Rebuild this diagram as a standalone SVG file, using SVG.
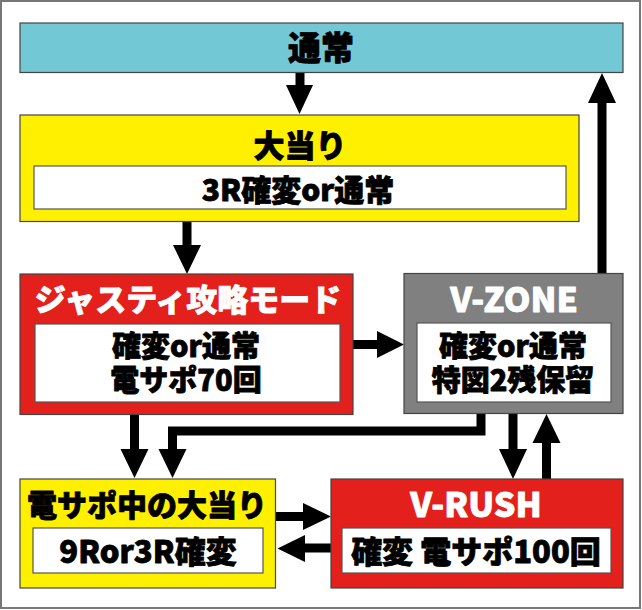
<svg xmlns="http://www.w3.org/2000/svg" width="642" height="610" viewBox="0 0 642 610">
<style>
.t{font-family:"Noto Sans CJK JP","Noto Sans",sans-serif;font-weight:900;text-anchor:middle;stroke-width:0.8;stroke-linejoin:round}
.blk{fill:#000;stroke:#000}
.wht{fill:#fff;stroke:#fff}
.box{stroke:#444;stroke-width:1.2}
.inner{fill:#fff;stroke:#555;stroke-width:1.2}
.ar{fill:#000;stroke:none}
.ln{fill:none;stroke:#000;stroke-width:9}
</style>
<rect x="1" y="1" width="639" height="607" fill="#fff" stroke="#777" stroke-width="2"/>

<g id="connectors">
  <rect class="ar" x="295.5" y="73" width="9" height="13"/>
  <polygon class="ar" points="286,85 313,85 299.5,114"/>
  <rect class="ar" x="597.5" y="102" width="9" height="172"/>
  <polygon class="ar" points="588,103 616,103 602,73"/>
  <rect class="ar" x="182.5" y="221" width="9" height="25"/>
  <polygon class="ar" points="173,245 201,245 187,274"/>
  <rect class="ar" x="353" y="340" width="25" height="9"/>
  <polygon class="ar" points="377,331 377,358 404,344.5"/>
  <rect class="ar" x="130" y="414" width="9" height="36"/>
  <polygon class="ar" points="120.5,449 148.5,449 134.5,478"/>
  <polyline class="ln" points="481,413 481,431 172.5,431 172.5,450"/>
  <polygon class="ar" points="158.5,449 186.5,449 172.5,478"/>
  <rect class="ar" x="508.5" y="413" width="9" height="37"/>
  <polygon class="ar" points="499,449 527,449 513,479"/>
  <rect class="ar" x="542" y="442" width="9" height="37"/>
  <polygon class="ar" points="532.5,443 560.5,443 546.5,414"/>
  <rect class="ar" x="275" y="512" width="29" height="9"/>
  <polygon class="ar" points="303,503 303,530 331,516.5"/>
  <rect class="ar" x="304" y="543.5" width="27" height="9"/>
  <polygon class="ar" points="305,535 305,562 277.5,548.5"/>
</g>

<g id="tsujo">
  <rect class="box" x="20" y="23" width="603" height="49.5" fill="#72c8d4"/>
  <text class="t blk" x="321" y="60" font-size="33">通常</text>
</g>

<g id="oatari">
  <rect class="box" x="20" y="115" width="559" height="106.5" fill="#fff000"/>
  <text class="t blk" x="300" y="157" font-size="31">大当り</text>
  <rect class="inner" x="34" y="166" width="532" height="43"/>
  <text class="t blk" x="298" y="201" font-size="30">3R確変or通常</text>
</g>

<g id="justy">
  <rect class="box" x="20" y="274" width="333" height="140.5" fill="#e3201b"/>
  <text class="t wht" x="188" y="311" font-size="31">ジャスティ攻略モード</text>
  <rect class="inner" x="35" y="324" width="305" height="78"/>
  <text class="t blk" x="186" y="356.5" font-size="29">確変or通常</text>
  <text class="t blk" x="186" y="390.5" font-size="29">電サポ70回</text>
</g>

<g id="vzone">
  <rect class="box" x="404" y="273.5" width="219" height="140" fill="#808080"/>
  <text class="t wht" x="514" y="311.5" font-size="34">V-ZONE</text>
  <rect class="inner" x="417" y="323" width="194" height="79"/>
  <text class="t blk" x="513" y="356.5" font-size="29">確変or通常</text>
  <text class="t blk" x="513" y="390.5" font-size="29">特図2残保留</text>
</g>

<g id="densapo">
  <rect class="box" x="20" y="479" width="255.5" height="109" fill="#fff000"/>
  <text class="t blk" x="147" y="516" font-size="30">電サポ中の大当り</text>
  <rect class="inner" x="33" y="528" width="230" height="45"/>
  <text class="t blk" x="148" y="563" font-size="31">9Ror3R確変</text>
</g>

<g id="vrush">
  <rect class="box" x="331" y="479" width="292" height="109" fill="#e3201b"/>
  <text class="t wht" x="476" y="516.5" font-size="34">V-RUSH</text>
  <rect class="inner" x="342" y="528" width="269" height="45"/>
  <text class="t blk" x="476" y="563" font-size="31">確変 電サポ100回</text>
</g>
</svg>
